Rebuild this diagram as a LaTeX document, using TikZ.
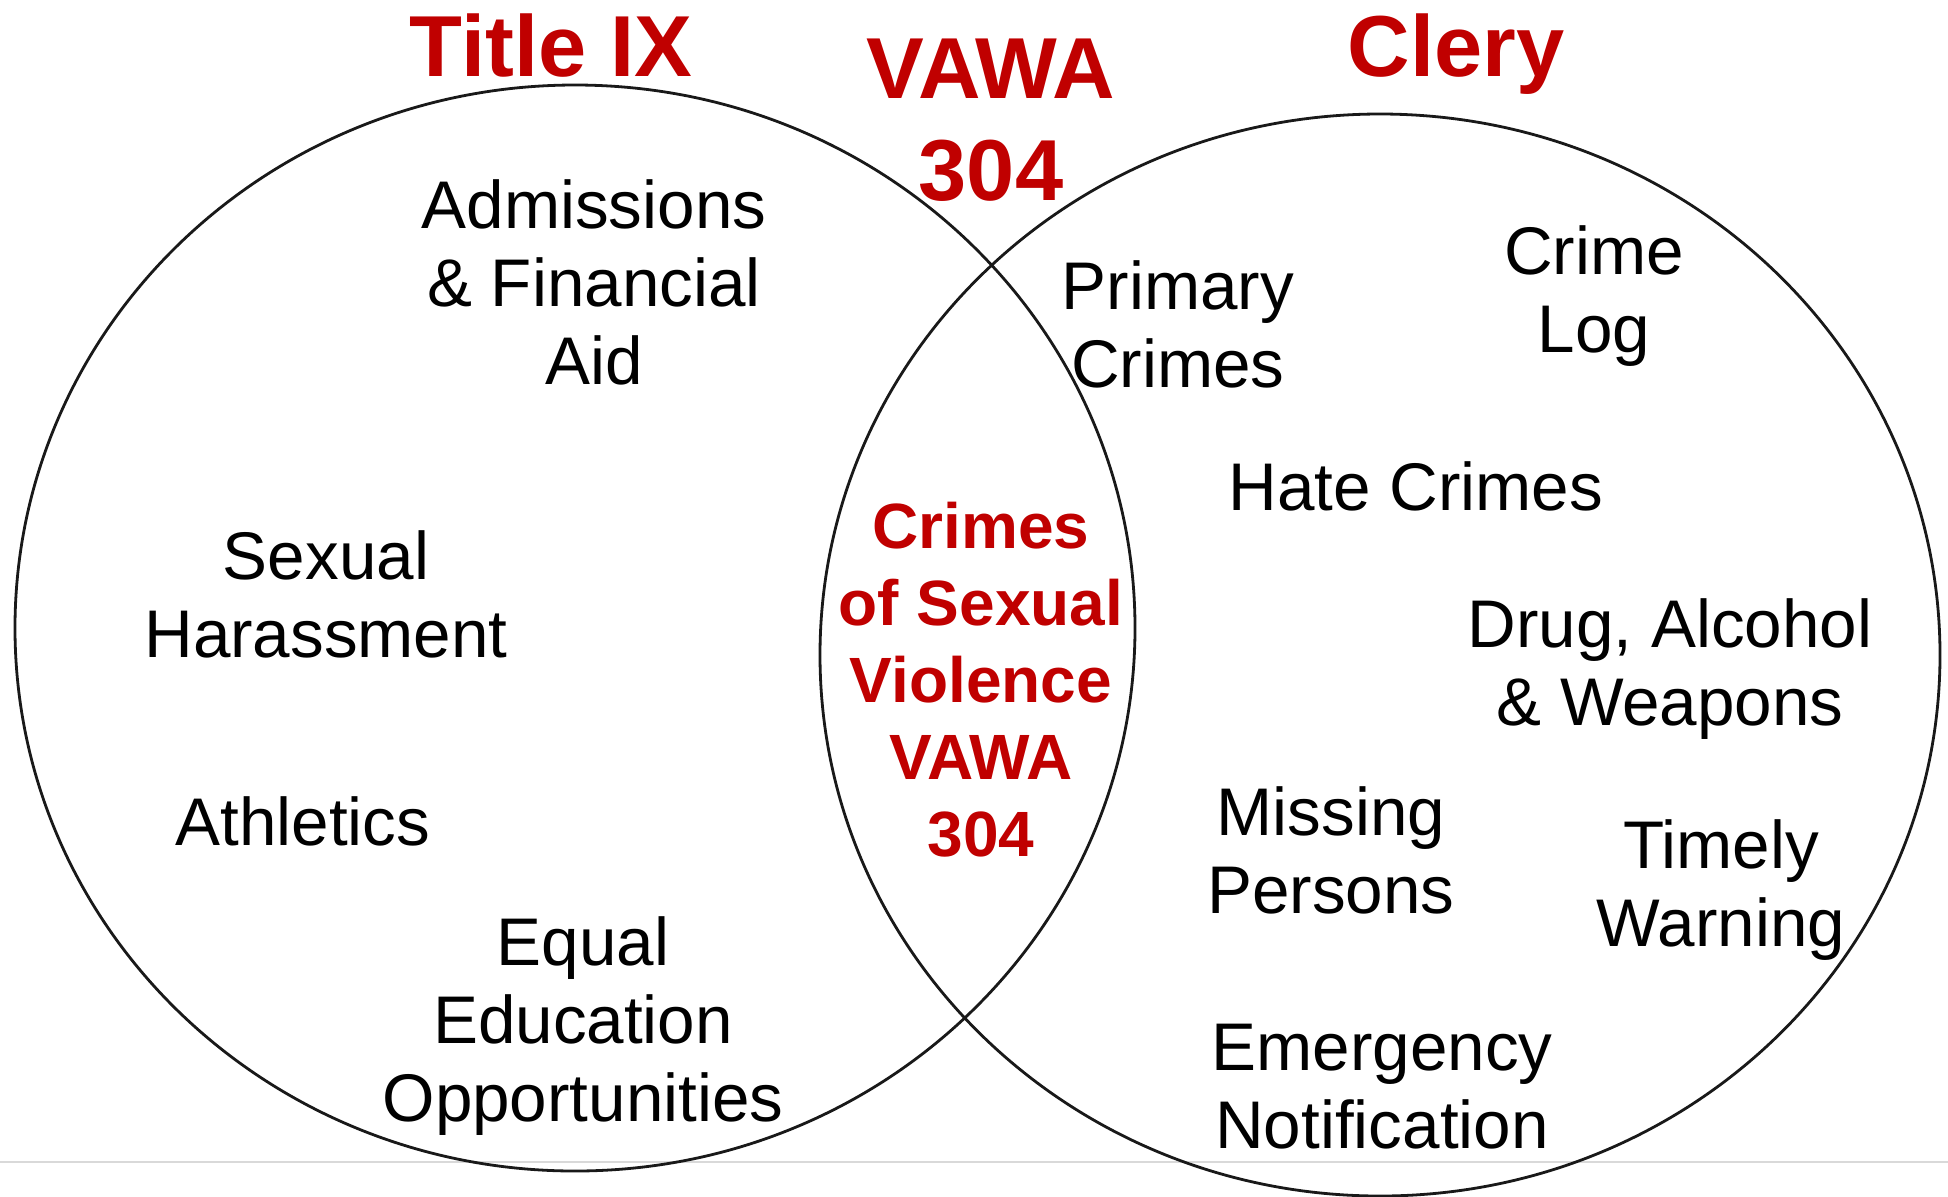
\documentclass[tikz,border=0pt]{standalone}
\usepackage{fontspec}
\setmainfont{Liberation Sans}
\definecolor{vred}{HTML}{C00000}
\definecolor{rule}{HTML}{D9D9D9}
\tikzset{
  ring/.style={draw=black!90, line width=1.4pt},
  lbl/.style={font=\fontsize{33.7pt}{39pt}\selectfont, align=center, anchor=base, inner sep=0pt},
  ttl/.style={font=\bfseries\fontsize{43.3pt}{51pt}\selectfont, text=vred, align=center, anchor=base, inner sep=0pt},
  mid/.style={font=\bfseries\fontsize{32pt}{38.5pt}\selectfont, text=vred, align=center, anchor=base, inner sep=0pt},
}
\begin{document}
\begin{tikzpicture}[x=0.5pt,y=-0.5pt]
\useasboundingbox (0,0) rectangle (1948,1196);
\fill[white] (0,0) rectangle (1948,1196);
\draw[rule, line width=1pt] (0,1162) -- (1948,1162);
\draw[ring] (575,628) ellipse [x radius=560, y radius=543];
\draw[ring] (1380,655) ellipse [x radius=560, y radius=541];
% titles (anchor = baseline of last line)
\node[ttl] (t9) at (551,76) {Title IX};
\node[ttl] (vawa) at (991,200) {VAWA\\304};
\node[ttl] (clery) at (1456,76) {Clery};
% Title IX side
\node[lbl] (adm) at (594,384) {Admissions\\\& Financial\\Aid};
\node[lbl] (sh) at (326,657) {Sexual\\Harassment};
\node[lbl] (ath) at (303,845) {Athletics};
\node[lbl] (eq) at (583,1121) {Equal\\Education\\Opportunities};
% overlap
\node[mid] (csv) at (981,856) {Crimes\\of Sexual\\Violence\\VAWA\\304};
% Clery side
\node[lbl] (pc) at (1178,387) {Primary\\Crimes};
\node[lbl] (cl) at (1594,352) {Crime\\Log};
\node[lbl] (hc) at (1416,510) {Hate Crimes};
\node[lbl] (daw) at (1670,725) {Drug, Alcohol\\\& Weapons};
\node[lbl] (mp) at (1331,913) {Missing\\Persons};
\node[lbl] (tw) at (1721,946) {Timely\\Warning};
\node[lbl] (en) at (1382,1148) {Emergency\\Notification};
\end{tikzpicture}
\end{document}
